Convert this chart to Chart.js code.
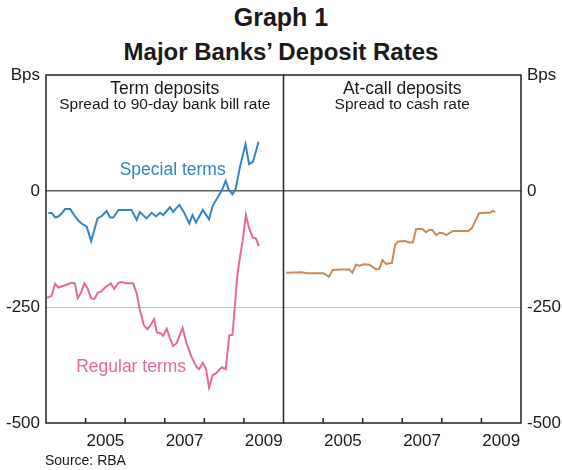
<!DOCTYPE html>
<html>
<head>
<meta charset="utf-8">
<script src="https://cdn.jsdelivr.net/npm/chart.js@4.4.1/dist/chart.umd.min.js"></script>
<style>
  body { margin: 0; width: 562px; height: 470px; position: relative; overflow: hidden; background: #fff;
         font-family: "Liberation Sans", Arial, sans-serif; color: #1a1a1a; }
  #title1 { position: absolute; left: 0; top: 3px; width: 562px; text-align: center; font-weight: bold; font-size: 25px; }
  #title2 { position: absolute; left: 0; top: 38px; width: 562px; text-align: center; font-weight: bold; font-size: 24px; }
  #source { position: absolute; left: 45px; top: 452px; font-size: 14px; }
  #chart1 { position: absolute; left: 0; top: 0; }
  #chart2 { position: absolute; left: 283px; top: 0; }
</style>
</head>
<body>
<div id="title1">Graph 1</div>
<div id="title2">Major Banks’ Deposit Rates</div>
<canvas id="chart1" width="284" height="470"></canvas>
<canvas id="chart2" width="279" height="470"></canvas>
<div id="source">Source: RBA</div>
<script>
// term deposits - special terms
var specialYears = [2004.06, 2004.14, 2004.23, 2004.31, 2004.40, 2004.48, 2004.61, 2004.73, 2004.82, 2004.90,
  2005.03, 2005.14, 2005.22, 2005.30, 2005.41, 2005.53, 2005.62, 2005.70, 2005.83, 2006.04, 2006.16, 2006.29,
  2006.37, 2006.54, 2006.67, 2006.78, 2006.88, 2006.96, 2007.13, 2007.21, 2007.37, 2007.48, 2007.62, 2007.70,
  2007.79, 2007.96, 2008.12, 2008.21, 2008.35, 2008.44, 2008.54, 2008.62, 2008.71, 2008.79, 2008.90, 2009.04,
  2009.13, 2009.23, 2009.37];
var specialBps = [-48, -47, -57, -55, -48, -39, -39, -54, -64, -70,
  -77, -108, -84, -59, -54, -43, -57, -57, -41, -41, -41, -62,
  -45, -59, -47, -55, -47, -52, -35, -45, -30, -45, -70, -52,
  -68, -41, -61, -32, -12, 1, 22, 2, -7, 4, 52, 101,
  58, 63, 106];

// term deposits - regular terms
var regularYears = [2004.03, 2004.14, 2004.23, 2004.31, 2004.48, 2004.65, 2004.73, 2004.80, 2004.88, 2004.97,
  2005.05, 2005.14, 2005.22, 2005.31, 2005.39, 2005.49, 2005.64, 2005.72, 2005.83, 2005.91, 2006.02, 2006.20,
  2006.29, 2006.37, 2006.47, 2006.56, 2006.63, 2006.73, 2006.80, 2006.90, 2006.96, 2007.05, 2007.13, 2007.21,
  2007.30, 2007.45, 2007.55, 2007.68, 2007.81, 2007.87, 2007.96, 2008.04, 2008.12, 2008.21, 2008.29, 2008.44,
  2008.54, 2008.63, 2008.71, 2008.77, 2008.83, 2008.90, 2008.97, 2009.05, 2009.13, 2009.22, 2009.30, 2009.38];
var regularBps = [-230, -226, -200, -208, -203, -198, -199, -231, -220, -199,
  -210, -231, -233, -219, -217, -208, -199, -211, -198, -196, -199, -199,
  -220, -256, -289, -298, -291, -276, -305, -307, -312, -297, -317, -334,
  -328, -295, -328, -358, -380, -384, -370, -382, -424, -397, -393, -380,
  -384, -311, -310, -249, -185, -142, -106, -52, -80, -100, -102, -119];

// at-call deposits
var atCallYears = [2004.07, 2004.46, 2004.59, 2005.01, 2005.15, 2005.24, 2005.43, 2005.66, 2005.74, 2005.83,
  2005.92, 2006.02, 2006.17, 2006.34, 2006.42, 2006.50, 2006.59, 2006.74, 2006.82, 2006.90, 2007.07, 2007.18,
  2007.27, 2007.35, 2007.51, 2007.60, 2007.68, 2007.76, 2007.86, 2007.94, 2008.03, 2008.11, 2008.19, 2008.28,
  2008.42, 2008.67, 2008.76, 2008.94, 2009.09, 2009.22, 2009.28, 2009.35];
var atCallBps = [-176, -175, -177, -177, -185, -170, -169, -169, -176, -159,
  -161, -158, -159, -169, -168, -149, -157, -155, -116, -109, -108, -111,
  -111, -82, -82, -89, -84, -84, -95, -90, -91, -95, -91, -86,
  -86, -86, -80, -48, -47, -47, -43, -45];

var yearLabels = [2005.5, 2007.5, 2009.5];
var yearTicks = [2005, 2006, 2007, 2008, 2009];
var bpsTicks = [-500, -250, 0, 250];

var FONT = '"Liberation Sans", Arial, sans-serif';
Chart.defaults.font.family = FONT;
Chart.defaults.color = "#1a1a1a";

function zip(xs, ys) {
  return xs.map(function (x, i) { return { x: x, y: ys[i] }; });
}

// box, inner year ticks, panel headings and series labels
var panelPlugin = {
  id: "panel",
  afterDraw: function (chart, args, opts) {
    var c = chart.ctx, a = chart.chartArea, xs = chart.scales.x, ys = chart.scales.y;
    c.save();
    c.strokeStyle = "#222";
    c.lineWidth = 1.5;
    c.strokeRect(a.left, a.top, a.right - a.left, a.bottom - a.top);
    c.beginPath();
    yearTicks.forEach(function (yr) {
      var px = xs.getPixelForValue(yr);
      c.moveTo(px, a.bottom);
      c.lineTo(px, a.bottom - 5);
    });
    c.stroke();
    c.fillStyle = "#1a1a1a";
    c.textAlign = "center";
    c.textBaseline = "middle";
    var cx = (a.left + a.right) / 2;
    c.font = "17.5px " + FONT;
    c.fillText(opts.heading, cx, a.top + 14);
    c.font = "15.5px " + FONT;
    c.fillText(opts.sub, cx, a.top + 30);
    (opts.labels || []).forEach(function (l) {
      c.fillStyle = l.color;
      c.font = "17.5px " + FONT;
      c.fillText(l.text, xs.getPixelForValue(l.x), ys.getPixelForValue(l.y));
    });
    c.restore();
  },
};

function makeOptions(side, padding, axisWidth, panel) {
  return {
    responsive: false,
    animation: false,
    layout: { padding: padding },
    plugins: { legend: { display: false }, tooltip: { enabled: false }, panel: panel },
    elements: { point: { radius: 0 }, line: { tension: 0, borderWidth: 2 } },
    scales: {
      x: {
        type: "linear",
        min: 2004,
        max: 2010,
        border: { display: false },
        grid: { display: false },
        afterBuildTicks: function (s) {
          s.ticks = yearLabels.map(function (v) { return { value: v }; });
        },
        afterFit: function (s) { s.height = 47; },
        ticks: {
          padding: 0,
          maxRotation: 0,
          font: { size: 17 },
          callback: function (v) { return String(Math.floor(v)); },
        },
      },
      y: {
        position: side,
        min: -500,
        max: 250,
        border: { display: false },
        afterBuildTicks: function (s) {
          s.ticks = bpsTicks.map(function (v) { return { value: v }; });
        },
        afterFit: function (s) { s.width = axisWidth; },
        grid: {
          drawTicks: false,
          lineWidth: function (ctx) { return ctx.tick && ctx.tick.value === 0 ? 1.5 : 1; },
          color: function (ctx) {
            if (!ctx.tick) return "rgba(0,0,0,0)";
            if (ctx.tick.value === 0) return "#5a5a5a";
            if (ctx.tick.value === -250) return "#bdbdbd";
            return "rgba(0,0,0,0)";
          },
        },
        ticks: {
          padding: 6,
          font: { size: 17 },
          callback: function (v) { return v === 250 ? "Bps" : String(v); },
        },
      },
    },
  };
}

new Chart(document.getElementById("chart1"), {
  type: "line",
  data: {
    datasets: [
      { label: "Special terms", data: zip(specialYears, specialBps), borderColor: "#3484c8" },
      { label: "Regular terms", data: zip(regularYears, regularBps), borderColor: "#e8679f" },
    ],
  },
  options: makeOptions("left", { top: 75, right: 0.5, left: 0, bottom: 0 }, 46, {
    heading: "Term deposits",
    sub: "Spread to 90-day bank bill rate",
    labels: [
      { text: "Special terms", x: 2007.2, y: 45, color: "#3484c8" },
      { text: "Regular terms", x: 2006.15, y: -379, color: "#e8679f" },
    ],
  }),
  plugins: [panelPlugin],
});

new Chart(document.getElementById("chart2"), {
  type: "line",
  data: {
    datasets: [
      { label: "At-call", data: zip(atCallYears, atCallBps), borderColor: "#c98b57" },
    ],
  },
  options: makeOptions("right", { top: 75, right: 0, left: 0.5, bottom: 0 }, 41, {
    heading: "At-call deposits",
    sub: "Spread to cash rate",
  }),
  plugins: [panelPlugin],
});
</script>
</body>
</html>
